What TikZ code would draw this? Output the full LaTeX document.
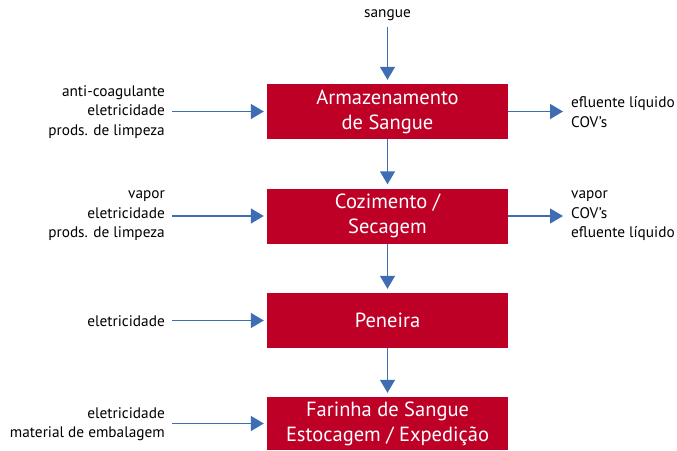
\documentclass[tikz,border=0pt]{standalone}
\usepackage{fontspec}
\setmainfont{PT Sans}
\usetikzlibrary{arrows.meta}
\definecolor{boxred}{HTML}{BE0027}
\definecolor{arrowblue}{HTML}{3F6DB3}
\tikzset{
  procbox/.style={fill=boxred, text=white, minimum width=241pt, minimum height=55pt,
    inner sep=0pt, align=center, font=\fontsize{20.5}{25}\selectfont},
  sidetext/.style={inner sep=0pt, font=\fontsize{15.3}{19.5}\selectfont},
  flow/.style={draw=arrowblue, line width=1.4pt, -{Triangle[length=13pt,width=15pt]}}
}
\begin{document}
\begin{tikzpicture}[x=1pt,y=-1pt]
\useasboundingbox (0,0) rectangle (677,450);
\node[procbox] (b1) at (387.5,111.5) {Armazenamento\\de Sangue};
\node[procbox] (b2) at (387.5,216) {Cozimento /\\Secagem};
\node[procbox] (b3) at (387.5,320.5) {Peneira};
\node[procbox, minimum height=53pt] (b4) at (387.5,423.5) {Farinha de Sangue\\Estocagem / Expedição};

\node[sidetext] (s) at (387.5,15) {sangue};

\node[sidetext, anchor=east, align=right] (l1) at (165,112) {anti-coagulante\\eletricidade\\prods. de limpeza};
\node[sidetext, anchor=east, align=right] (l2) at (165,216) {vapor\\eletricidade\\prods. de limpeza};
\node[sidetext, anchor=east, align=right] (l3) at (165,321) {eletricidade};
\node[sidetext, anchor=east, align=right] (l4) at (165,424) {eletricidade\\material de embalagem};

\node[sidetext, anchor=west, align=left] (r1) at (571,112) {efluente líquido\\COV’s};
\node[sidetext, anchor=west, align=left] (r2) at (571,216) {vapor\\COV’s\\efluente líquido};

\draw[flow, shorten <=6pt, shorten >=4pt] (s.south) -- (b1.north);
\draw[flow, shorten >=4pt] (b1.south) -- (b2.north);
\draw[flow, shorten >=4pt] (b2.south) -- (b3.north);
\draw[flow, shorten >=4pt] (b3.south) -- (b4.north);

\draw[flow, shorten <=7pt, shorten >=3pt] (l1.east |- b1.west) -- (b1.west);
\draw[flow, shorten <=7pt, shorten >=3pt] (l2.east |- b2.west) -- (b2.west);
\draw[flow, shorten <=7pt, shorten >=3pt] (l3.east |- b3.west) -- (b3.west);
\draw[flow, shorten <=7pt, shorten >=3pt] (l4.east |- b4.west) -- (b4.west);

\draw[flow, shorten >=8pt] (b1.east) -- (r1.west |- b1.east);
\draw[flow, shorten >=8pt] (b2.east) -- (r2.west |- b2.east);
\end{tikzpicture}
\end{document}
